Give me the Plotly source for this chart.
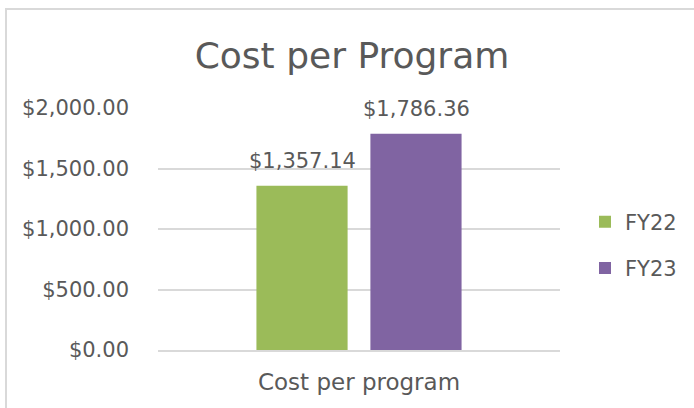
import plotly.graph_objects as go

categories = ["Cost per program"]
series_names = ["FY22", "FY23"]
fy22_values = [1357.14]
fy23_values = [1786.36]
colors = ["#9BBB59", "#8064A2"]
y_ticks = [0, 500, 1000, 1500, 2000]
y_tick_labels = ["$0.00", "$500.00", "$1,000.00", "$1,500.00", "$2,000.00"]

FONT = "DejaVu Sans"
GREY = "#595959"
LINE = "#D9D9D9"

fig = go.Figure()
series = [fy22_values, fy23_values]
for name, vals, col in zip(series_names, series, colors):
    fig.add_trace(go.Bar(
        x=categories, y=vals, name=name, legendgroup=name,
        marker=dict(color=col, line=dict(width=0)),
    ))

# data labels above bars
offsets_px = [-57, 57]
annotations = []
for vals, dx in zip(series, offsets_px):
    for cat, v in zip(categories, vals):
        annotations.append(dict(
            x=cat, y=v, xref="x", yref="y", text=f"${v:,.2f}", showarrow=False,
            xshift=dx, yshift=11, yanchor="bottom", xanchor="center",
            font=dict(family=FONT, size=21, color=GREY)))

fig.update_layout(
    width=694, height=408,
    margin=dict(l=158, r=134, t=108, b=58, autoexpand=False),
    paper_bgcolor="white", plot_bgcolor="white",
    font=dict(family=FONT, color=GREY),
    title=dict(text="Cost per Program", x=352/694, xanchor="center", y=1 - 55/408, yanchor="middle",
               yref="container", font=dict(family=FONT, size=36, color=GREY)),
    bargap=0.433, bargroupgap=0.2,
    showlegend=True,
    legend=dict(xref="container", yref="container", x=585/694, y=1 - 245/408,
                xanchor="left", yanchor="middle",
                font=dict(family=FONT, size=21, color=GREY), tracegroupgap=16,
                itemwidth=30, bgcolor="rgba(0,0,0,0)"),
    annotations=annotations,
    shapes=[dict(type="rect", xref="paper", yref="paper",
                 x0=(6 - 158) / 402, x1=(720 - 158) / 402,
                 y0=(350 - 430) / 242, y1=(350 - 9) / 242,
                 line=dict(color=LINE, width=2), layer="below")],
)
fig.update_yaxes(range=[0, 2000], tickvals=y_ticks, ticktext=y_tick_labels,
                 showgrid=True, gridcolor=LINE, gridwidth=1.5, zeroline=False,
                 showline=False, ticks="", ticklabelstandoff=28,
                 tickfont=dict(family=FONT, size=21, color=GREY))
fig.update_xaxes(showline=True, linecolor=LINE, linewidth=1.5, ticks="",
                 tickfont=dict(family=FONT, size=23, color=GREY), ticklabelstandoff=11)

fig.write_html("out.html", config={"displayModeBar": False},
               post_script="document.body.style.margin='0';")
